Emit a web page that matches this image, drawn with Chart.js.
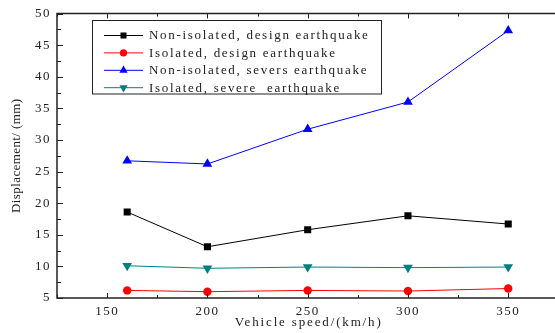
<!DOCTYPE html>
<html>
<head>
<meta charset="utf-8">
<script src="https://cdn.jsdelivr.net/npm/chart.js@4/dist/chart.umd.min.js"></script>
<style>
  html, body { margin: 0; padding: 0; background: #fff; overflow: hidden; }
  canvas { display: block; }
</style>
</head>
<body>
<canvas id="c" width="574" height="333"></canvas>
<script>
// Vehicle speed (km/h) and peak displacement (mm)
const speeds = [160, 200, 250, 300, 350];
const nonIsolatedDesign = [18.6, 13.1, 15.8, 18.0, 16.7];
const isolatedDesign = [6.2, 6.0, 6.2, 6.1, 6.5];
const nonIsolatedSevere = [26.7, 26.2, 31.7, 36.0, 47.3];
const isolatedSevere = [10.1, 9.7, 9.9, 9.8, 9.9];

const seriesNames = [
  'Non-isolated, design earthquake',
  'Isolated, design earthquake',
  'Non-isolated, severs earthquake',
  'Isolated, severe  earthquake'
];
const xTickLabels = [150, 200, 250, 300, 350];
const yTickLabels = [5, 10, 15, 20, 25, 30, 35, 40, 45, 50];

const FONT = '"Liberation Serif", "DejaVu Serif", serif';
const INK = '#222';

function pts(vals) { return speeds.map((s, i) => ({ x: s, y: vals[i] })); }

const styles = [
  { color: '#000000', pointStyle: 'rect', radius: 5, rotation: 0 },
  { color: '#ff0000', pointStyle: 'circle', radius: 4.2, rotation: 0 },
  { color: '#0000ff', pointStyle: 'triangle', radius: 5.6, rotation: 0 },
  { color: '#008080', pointStyle: 'triangle', radius: 5.6, rotation: 180 }
];
const series = [nonIsolatedDesign, isolatedDesign, nonIsolatedSevere, isolatedSevere];

const datasets = series.map((vals, i) => ({
  label: seriesNames[i],
  data: pts(vals),
  borderColor: styles[i].color,
  backgroundColor: styles[i].color,
  borderWidth: 1,
  pointStyle: styles[i].pointStyle,
  pointRadius: styles[i].radius,
  pointRotation: styles[i].rotation,
  pointBorderWidth: 0,
  pointBackgroundColor: styles[i].color,
  tension: 0
}));

// Spaced-out serif lettering
const spacing = {
  id: 'spacing',
  beforeLayout(chart) { chart.ctx.letterSpacing = '1.5px'; },
  beforeDraw(chart) { chart.ctx.letterSpacing = '1.5px'; }
};

// Per-axis title letter spacing and horizontal nudge
function spacedTitle(scale, gap, dx) {
  if (scale._spacedTitle) return;
  scale._spacedTitle = true;
  const base = scale.drawTitle;
  scale.drawTitle = function () {
    this.ctx.save();
    this.ctx.letterSpacing = gap;
    this.ctx.translate(dx || 0, 0);
    base.call(this);
    this.ctx.restore();
  };
}

// Closed frame with inward major/minor ticks
const frame = {
  id: 'frame',
  afterDatasetsDraw(chart) {
    const { ctx, chartArea: { left, right, top, bottom }, scales: { x, y } } = chart;
    ctx.save();
    ctx.strokeStyle = INK;
    ctx.lineWidth = 1;
    ctx.beginPath();
    for (let v = 125; v <= x.max; v += 25) {
      const px = Math.round(x.getPixelForValue(v)) + 0.5;
      const len = v % 50 === 0 ? 5 : 3;
      ctx.moveTo(px, bottom); ctx.lineTo(px, bottom - len);
      ctx.moveTo(px, top); ctx.lineTo(px, top + len);
    }
    for (let v = y.min; v <= y.max; v += 2.5) {
      const py = Math.round(y.getPixelForValue(v)) + 0.5;
      const len = v % 5 === 0 ? 6 : 4;
      ctx.moveTo(left, py); ctx.lineTo(left + len, py);
      ctx.moveTo(right, py); ctx.lineTo(right - len, py);
    }
    ctx.stroke();
    ctx.lineWidth = 1.5;
    ctx.strokeRect(left, top, right - left, bottom - top);
    ctx.restore();
  }
};

// Boxed legend inside the plot area
const boxedLegend = {
  id: 'boxedLegend',
  afterDraw(chart) {
    const { ctx, chartArea: { left, top } } = chart;
    const bx = left + 35, by = top + 6.5, bw = 289, bh = 73.5;
    ctx.save();
    ctx.letterSpacing = '1.7px';
    ctx.fillStyle = '#fff';
    ctx.fillRect(bx, by, bw, bh);
    ctx.strokeStyle = INK;
    ctx.lineWidth = 1;
    ctx.strokeRect(bx + 0.5, by + 0.5, bw, bh);
    ctx.font = '13px ' + FONT;
    ctx.textBaseline = 'middle';
    ctx.textAlign = 'left';
    chart.data.datasets.forEach((ds, i) => {
      const ry = by + 15.5 + i * 17.4;
      const lx0 = bx + 12, lx1 = bx + 51, mx = (lx0 + lx1) / 2;
      ctx.strokeStyle = ds.borderColor;
      ctx.lineWidth = 1;
      ctx.beginPath();
      ctx.moveTo(lx0, ry); ctx.lineTo(lx1, ry);
      ctx.stroke();
      ctx.fillStyle = ds.pointBackgroundColor;
      Chart.helpers.drawPoint(ctx, {
        pointStyle: ds.pointStyle,
        radius: ds.pointRadius * 0.85,
        rotation: ds.pointRotation,
        borderWidth: 0
      }, mx, ry);
      ctx.fillStyle = INK;
      ctx.fillText(ds.label, bx + 57, ry + 0.5);
    });
    ctx.restore();
  }
};

new Chart(document.getElementById('c'), {
  type: 'line',
  data: { datasets },
  plugins: [spacing, frame, boxedLegend],
  options: {
    responsive: false,
    animation: false,
    layout: { padding: { top: 13.5, right: 0, left: 0, bottom: 0 } },
    plugins: { legend: { display: false }, tooltip: { enabled: false } },
    scales: {
      x: {
        type: 'linear',
        min: 125,
        max: 380,
        afterBuildTicks: s => { s.ticks = xTickLabels.map(v => ({ value: v })); },
        afterFit: s => {
          s.height = 35;
          s.paddingLeft = 0;
          s.paddingRight = 0;
          spacedTitle(s, '1.85px', -4);
        },
        grid: { display: false, drawTicks: false },
        border: { display: false },
        ticks: { color: INK, font: { family: FONT, size: 13 }, padding: 6, maxRotation: 0 },
        title: {
          display: true,
          text: 'Vehicle speed/(km/h)',
          color: INK,
          font: { family: FONT, size: 13 },
          padding: { top: 0, bottom: 3 }
        }
      },
      y: {
        min: 5,
        max: 50,
        afterBuildTicks: s => { s.ticks = yTickLabels.map(v => ({ value: v })); },
        afterFit: s => {
          s.width = 57;
          s.paddingTop = 0;
          s.paddingBottom = 0;
          spacedTitle(s, '0.4px', 0);
        },
        grid: { display: false, drawTicks: false },
        border: { display: false },
        ticks: { color: INK, font: { family: FONT, size: 13 }, padding: 6 },
        title: {
          display: true,
          text: 'Displacement/ (mm)',
          color: INK,
          font: { family: FONT, size: 13 },
          padding: { top: 9, bottom: 0 }
        }
      }
    }
  }
});
</script>
</body>
</html>
